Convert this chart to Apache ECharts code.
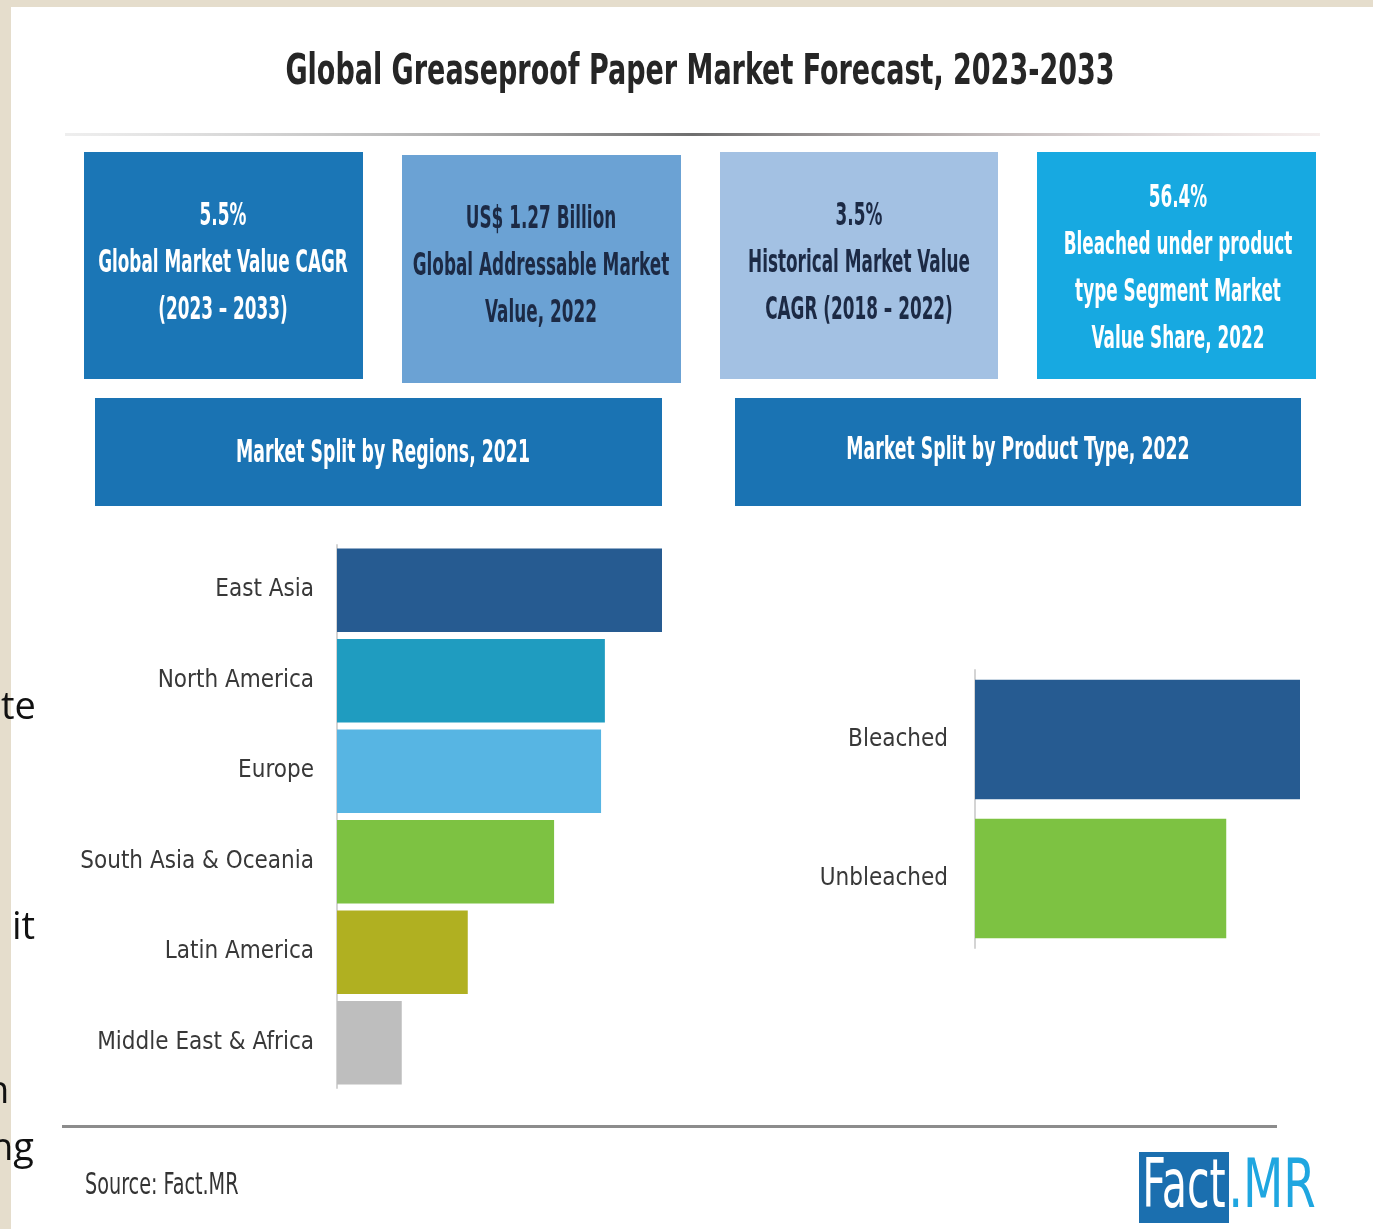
<!DOCTYPE html>
<html>
<head>
<meta charset="utf-8">
<script src="https://cdn.jsdelivr.net/npm/echarts@6/dist/echarts.min.js"></script>
<style>
html,body{margin:0;padding:0;background:#e5ddcc;}
#main{width:1373px;height:1229px;}
</style>
</head>
<body>
<div id="main"></div>
<script>
// ---- data ----
const chartTitle = 'Global Greaseproof Paper Market Forecast, 2023-2033';
const regionCategories = ['East Asia', 'North America', 'Europe', 'South Asia & Oceania', 'Latin America', 'Middle East & Africa'];
const regionValues = [25.6, 21.1, 20.8, 17.1, 10.3, 5.1];
const productCategories = ['Bleached', 'Unbleached'];
const productValues = [56.4, 43.6];
const stat1Lines = ['5.5%', 'Global Market Value CAGR', '(2023 – 2033)'];
const stat2Lines = ['US$ 1.27 Billion', 'Global Addressable Market', 'Value, 2022'];
const stat3Lines = ['3.5%', 'Historical Market Value', 'CAGR (2018 – 2022)'];
const stat4Lines = ['56.4%', 'Bleached under product', 'type Segment Market', 'Value Share, 2022'];
const regionBanner = 'Market Split by Regions, 2021';
const productBanner = 'Market Split by Product Type, 2022';
const sourceText = 'Source: Fact.MR';

// ---- styles ----
const regionColors = ['#265b91', '#1f9cc0', '#57b5e3', '#7dc242', '#b0b021', '#bebebe'];
const productColors = ['#265b91', '#7dc242'];
const NARROW = "'Liberation Sans Narrow', 'DejaVu Sans Condensed', 'Liberation Sans', sans-serif";

const chart = echarts.init(document.getElementById('main'), null, {renderer: 'canvas'});

const g = [];
function rect(x, y, w, h, fill, z) {
  g.push({type: 'rect', z: z == null ? 1 : z, silent: true, shape: {x, y, width: w, height: h}, style: {fill}});
}
function txt(text, x, y, opt) {
  opt = opt || {};
  g.push({
    type: 'text', z: 20, silent: true, x, y,
    scaleX: opt.sx || 1, scaleY: opt.sy || 1,
    style: {
      text, x: 0, y: 0,
      textAlign: opt.align || 'center', textVerticalAlign: opt.va || 'middle',
      fontFamily: opt.family || NARROW, fontSize: opt.size || 26,
      fontWeight: opt.weight || 'normal', fill: opt.color || '#222'
    }
  });
}
function lines(arr, cx, y0, step, opt) {
  arr.forEach((t, i) => txt(t, cx, y0 + i * step, opt));
}

// page
rect(11, 7, 1362, 1222, '#ffffff', -10);

// title
txt(chartTitle, 700, 73, {size: 38, weight: 'bold', color: '#262626', sx: 0.79, sy: 1.12});
g.push({type: 'rect', z: 1, silent: true, shape: {x: 65, y: 133, width: 1255, height: 3},
  style: {fill: new echarts.graphic.LinearGradient(0, 0, 1, 0, [
    {offset: 0, color: 'rgba(200,200,200,0.3)'}, {offset: 0.5, color: '#6e6e6e'}, {offset: 1, color: 'rgba(220,200,200,0.3)'}])}});

// stat boxes
rect(84, 152, 279, 227, '#1b76b6');
rect(402, 155, 279, 228, '#6ba2d4');
rect(720, 152, 278, 227, '#a3c1e3');
rect(1037, 152, 279, 227, '#17a9e1');
const boxOpt = {size: 25, weight: 'bold', sx: 0.75, sy: 1.25};
lines(stat1Lines, 223, 217, 47, Object.assign({color: '#ffffff'}, boxOpt));
lines(stat2Lines, 541, 220, 47, Object.assign({color: '#1c2a45'}, boxOpt));
lines(stat3Lines, 859, 217, 47, Object.assign({color: '#1c2a45'}, boxOpt));
lines(stat4Lines, 1178, 199, 47, Object.assign({color: '#ffffff'}, boxOpt));

// banners
rect(95, 398, 567, 108, '#1a73b3');
rect(735, 398, 566, 108, '#1a73b3');
txt(regionBanner, 383, 454, {size: 26, weight: 'bold', color: '#ffffff', sx: 0.74, sy: 1.2});
txt(productBanner, 1018, 451, {size: 26, weight: 'bold', color: '#ffffff', sx: 0.74, sy: 1.2});

// footer
rect(62, 1125, 1215, 3, '#8c8c8c');
txt(sourceText, 85, 1186, {size: 24, align: 'left', color: '#333', sx: 0.89, sy: 1.25});
rect(1139, 1152, 90, 71, '#1b6faf');
txt('Fact', 1184, 1189, {size: 52, color: '#ffffff', sx: 0.88, sy: 1.3});
txt('.MR', 1272, 1189, {size: 52, color: '#1fa6e0', sy: 1.3});

// stray slide text at left edge
const strayOpt = {family: "'Open Sans', 'Liberation Sans', sans-serif", size: 38, align: 'left', color: '#111'};
txt('te', 1, 708, strayOpt);
txt('it', 12, 928, strayOpt);
txt('n', -14, 1092, strayOpt);
txt('ng', -10, 1149, strayOpt);

const axisLabelStyle = {fontFamily: NARROW, fontSize: 24, color: '#383838'};

chart.setOption({
  backgroundColor: '#e5ddcc',
  animation: false,
  graphic: {elements: g},
  grid: [
    {left: 337, top: 545, width: 325, height: 543},
    {left: 975, top: 670, width: 325, height: 278}
  ],
  xAxis: [
    {gridIndex: 0, type: 'value', min: 0, max: 25.6, show: false},
    {gridIndex: 1, type: 'value', min: 0, max: 56.4, show: false}
  ],
  yAxis: [
    {gridIndex: 0, type: 'category', inverse: true, data: regionCategories,
      axisLine: {lineStyle: {color: '#d4d4d4', width: 2}}, axisTick: {show: false},
      axisLabel: Object.assign({margin: 23}, axisLabelStyle)},
    {gridIndex: 1, type: 'category', inverse: true, data: productCategories,
      axisLine: {lineStyle: {color: '#d4d4d4', width: 2}}, axisTick: {show: false},
      axisLabel: Object.assign({margin: 27}, axisLabelStyle)}
  ],
  series: [
    {type: 'bar', xAxisIndex: 0, yAxisIndex: 0, barCategoryGap: '8%',
      data: regionValues.map((v, i) => ({value: v, itemStyle: {color: regionColors[i]}}))},
    {type: 'bar', xAxisIndex: 1, yAxisIndex: 1, barCategoryGap: '14%',
      data: productValues.map((v, i) => ({value: v, itemStyle: {color: productColors[i]}}))}
  ]
});
</script>
</body>
</html>
